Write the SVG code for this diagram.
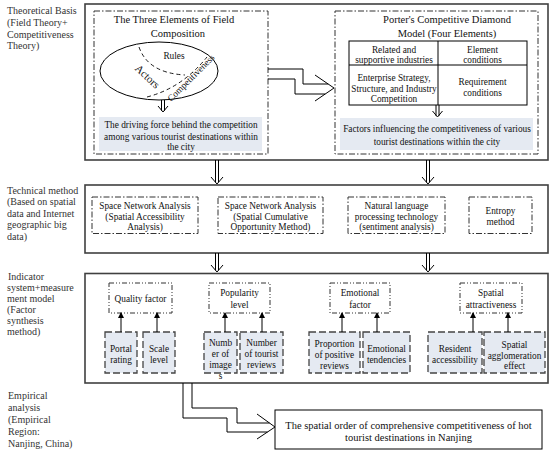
<svg xmlns="http://www.w3.org/2000/svg" width="550" height="453" viewBox="0 0 550 453">
<style>
text{font-family:"Liberation Serif","Times New Roman",serif;fill:#111}
.t{font-size:9.3px;text-anchor:middle}
.h{font-size:10.5px;text-anchor:middle}
.lab{font-size:10px;fill:#333}
.outer{fill:#fff;stroke:#404040;stroke-width:1.6}
.dd{fill:none;stroke:#333;stroke-width:1;stroke-dasharray:6 2 1.5 2}
.ddd{fill:#fff;stroke:#333;stroke-width:1;stroke-dasharray:5 2 1 2 1 2}
.shade{fill:#e5eaf2}
.dash{fill:#e5eaf2;stroke:#444;stroke-width:1.3;stroke-dasharray:7 3}
.ha{fill:none;stroke:#000;stroke-width:1}
.cv{fill:none;stroke:#000;stroke-width:0.9;stroke-dasharray:4 3}
.ar{fill:none;stroke:#000;stroke-width:1;marker-end:url(#tri)}
</style>
<defs>
<marker id="tri" markerWidth="6" markerHeight="6" refX="5" refY="3" orient="auto" markerUnits="userSpaceOnUse">
<path d="M0,0 L6,3 L0,6 Z" fill="#000"/>
</marker>
</defs>

<g id="labels">
<text class="lab" x="7" y="13.5">Theoretical Basis</text>
<text class="lab" x="7" y="25.5">(Field Theory+</text>
<text class="lab" x="7" y="37.5">Competitiveness</text>
<text class="lab" x="7" y="49">Theory)</text>
<text class="lab" x="7" y="193.5">Technical method</text>
<text class="lab" x="7" y="205">(Based on spatial</text>
<text class="lab" x="7" y="216.5">data and Internet</text>
<text class="lab" x="7" y="228">geographic big</text>
<text class="lab" x="7" y="239.5">data)</text>
<text class="lab" x="8" y="279.5">Indicator</text>
<text class="lab" x="7" y="290.5">system+measure</text>
<text class="lab" x="7" y="301.5">ment model</text>
<text class="lab" x="7" y="312.5">(Factor</text>
<text class="lab" x="7" y="323.5">synthesis</text>
<text class="lab" x="7" y="334.5">method)</text>
<text class="lab" x="8" y="398.5">Empirical</text>
<text class="lab" x="8" y="410.5">analysis</text>
<text class="lab" x="8" y="422.5">(Empirical</text>
<text class="lab" x="8" y="434.5">Region:</text>
<text class="lab" x="8" y="446.5">Nanjing, China)</text>
</g>

<g id="theory">
<rect class="outer" x="85" y="4" width="463" height="156"/>
</g>

<g id="field">
<rect class="dd" x="94" y="11" width="174" height="143"/>
<text class="h" x="174" y="23">The Three Elements of Field</text>
<text class="h" x="178" y="37">Composition</text>
<ellipse cx="159" cy="71" rx="59" ry="29" fill="none" stroke="#000" stroke-width="1"/>
<path class="cv" d="M139,47 Q148,73 185,75"/>
<path class="cv" d="M147,97 Q182,88 207,57"/>
<text class="t" x="174" y="58.5">Rules</text>
<text x="147" y="80" font-size="11" text-anchor="middle" transform="rotate(43 147 77)">Actors</text>
<text class="t" x="191" y="81" transform="rotate(-45 191 78)">Competitiveness</text>
<rect class="shade" x="99" y="117" width="163" height="34"/>
<text class="t" x="181" y="127.5">The driving force behind the competition</text>
<text class="t" x="181" y="139.5">among various tourist destinations within</text>
<text class="t" x="181" y="150">the city</text>
</g>

<g id="porter">
<rect class="dd" x="335" y="11" width="203" height="143"/>
<text class="h" x="447" y="23">Porter's Competitive Diamond</text>
<text class="h" x="447" y="37">Model (Four Elements)</text>
<rect x="349" y="41" width="178" height="64" fill="#fff" stroke="#000" stroke-width="1"/>
<line x1="438" y1="41" x2="438" y2="105" stroke="#000" stroke-width="1"/>
<line x1="349" y1="65" x2="527" y2="65" stroke="#000" stroke-width="1"/>
<text class="t" x="394" y="52.5">Related and</text>
<text class="t" x="394" y="63">supportive industries</text>
<text class="t" x="482.5" y="52.5">Element</text>
<text class="t" x="482.5" y="63">conditions</text>
<text class="t" x="394" y="80.5">Enterprise Strategy,</text>
<text class="t" x="394" y="91.5">Structure, and Industry</text>
<text class="t" x="394" y="102">Competition</text>
<text class="t" x="482.5" y="85">Requirement</text>
<text class="t" x="482.5" y="95.5">conditions</text>
<rect class="shade" x="340" y="118" width="193" height="32"/>
<text class="t" x="437" y="131.5">Factors influencing the competitiveness of various</text>
<text class="t" x="437" y="144.5">tourist destinations within the city</text>
</g>

<g id="technical">
<rect class="outer" x="85" y="185" width="463" height="68"/>
<rect class="dd" x="92" y="197" width="106" height="36.5"/>
<text class="t" x="145" y="208.5">Space Network Analysis</text>
<text class="t" x="145" y="219.5">(Spatial Accessibility</text>
<text class="t" x="145" y="230">Analysis)</text>
<rect class="dd" x="218" y="197" width="105" height="36.5"/>
<text class="t" x="270.5" y="208.5">Space Network Analysis</text>
<text class="t" x="270.5" y="219.5">(Spatial Cumulative</text>
<text class="t" x="270.5" y="230">Opportunity Method)</text>
<rect class="dd" x="348" y="197" width="97" height="36.5"/>
<text class="t" x="396.5" y="208.5">Natural language</text>
<text class="t" x="396.5" y="219.5">processing technology</text>
<text class="t" x="396.5" y="230">(sentiment analysis)</text>
<rect class="dd" x="469" y="197" width="63" height="36.5"/>
<text class="t" x="500.5" y="214">Entropy</text>
<text class="t" x="500.5" y="225">method</text>
</g>

<g id="indicator">
<rect class="outer" x="85" y="273.5" width="463" height="109.5"/>
<rect class="ddd" x="109" y="283" width="63" height="30"/>
<text class="t" x="140.5" y="302">Quality factor</text>
<rect class="ddd" x="209" y="283" width="61" height="30"/>
<text class="t" x="239.5" y="296">Popularity</text>
<text class="t" x="239.5" y="307.5">level</text>
<rect class="ddd" x="330" y="283" width="60" height="30"/>
<text class="t" x="360" y="296">Emotional</text>
<text class="t" x="360" y="307.5">factor</text>
<rect class="ddd" x="460" y="283" width="62" height="30"/>
<text class="t" x="491" y="296">Spatial</text>
<text class="t" x="491" y="307.5">attractiveness</text>

<rect class="dash" x="105" y="332" width="32" height="41"/>
<text class="t" x="121" y="351.5">Portal</text>
<text class="t" x="121" y="363">rating</text>
<rect class="dash" x="143" y="332" width="32" height="41"/>
<text class="t" x="159" y="351.5">Scale</text>
<text class="t" x="159" y="363">level</text>
<rect class="dash" x="204" y="332" width="33" height="41"/>
<text class="t" x="220.5" y="346">Numb</text>
<text class="t" x="220.5" y="357">er of</text>
<text class="t" x="220.5" y="368">image</text>
<text class="t" x="220.5" y="379">s</text>
<rect class="dash" x="240" y="332" width="43" height="41"/>
<text class="t" x="261.5" y="346">Number</text>
<text class="t" x="261.5" y="357">of tourist</text>
<text class="t" x="261.5" y="368">reviews</text>
<rect class="dash" x="309" y="332" width="51" height="41"/>
<text class="t" x="334.5" y="347">Proportion</text>
<text class="t" x="334.5" y="358">of positive</text>
<text class="t" x="334.5" y="369">reviews</text>
<rect class="dash" x="363" y="332" width="47" height="41"/>
<text class="t" x="386.5" y="352">Emotional</text>
<text class="t" x="386.5" y="363">tendencies</text>
<rect class="dash" x="428" y="332" width="54" height="41"/>
<text class="t" x="455" y="352">Resident</text>
<text class="t" x="455" y="363">accessibility</text>
<rect class="dash" x="484" y="332" width="61" height="41"/>
<text class="t" x="514.5" y="348">Spatial</text>
<text class="t" x="514.5" y="358.5">agglomeration</text>
<text class="t" x="514.5" y="369">effect</text>
</g>

<g id="result">
<rect x="275" y="410" width="267" height="39" fill="#fff" stroke="#000" stroke-width="1"/>
<text x="408.5" y="428.5" font-size="10.5" text-anchor="middle">The spatial order of comprehensive competitiveness of hot</text>
<text x="408.5" y="440.5" font-size="10.5" text-anchor="middle">tourist destinations in Nanjing</text>
</g>

<g id="connectors">
<path class="ha" d="M268,69 H303 V84 H328.2 M268,79 H295 V94 H325.2 M315,75 L334,88 L315,101"/>
<path class="ha" d="M161.5,100 V110.8 M164.5,100 V110.8 M158,106 L163,112 L168,106"/>
<path class="ha" d="M436,105 V115.8 M439,105 V115.8 M432.5,111 L437.5,117 L442.5,111"/>
<path class="ha" d="M215.5,160 V182.3 M218.5,160 V182.3 M211,177 L217,184 L223,177"/>
<path class="ha" d="M426.5,160 V182.3 M429.5,160 V182.3 M422,177 L428,184 L434,177"/>
<path class="ha" d="M215.5,253 V270.3 M218.5,253 V270.3 M211,265 L217,272 L223,265"/>
<path class="ha" d="M426.5,253 V270.3 M429.5,253 V270.3 M422,265 L428,272 L434,265"/>
<path class="ha" d="M192,383 V408 H237 V423 H269.5 M183,383 V418 H227 V432 H267.5 M257,414 L275,427 L257,439"/>
<path class="ar" d="M121,332 V313"/>
<path class="ar" d="M157,332 V313"/>
<path class="ar" d="M225,332 V313"/>
<path class="ar" d="M262,332 V313"/>
<path class="ar" d="M342,332 V313"/>
<path class="ar" d="M377,332 V313"/>
<path class="ar" d="M473,332 V313"/>
<path class="ar" d="M508,332 V313"/>
</g>
</svg>
